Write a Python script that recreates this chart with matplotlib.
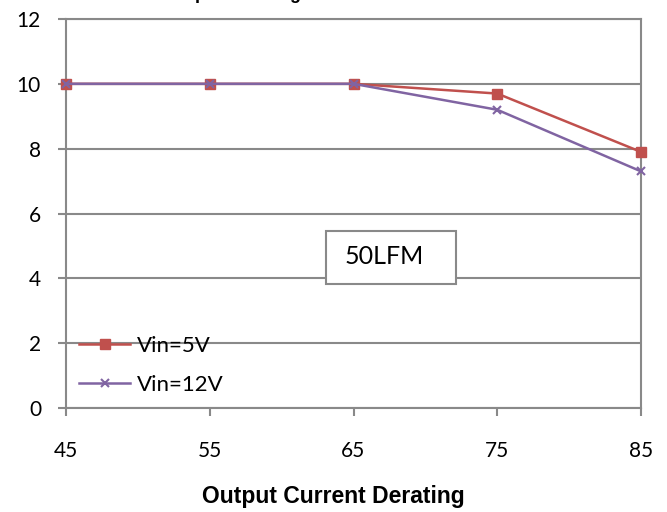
import numpy as np
import matplotlib
matplotlib.use('Agg')
import matplotlib.pyplot as plt
from matplotlib.patches import Rectangle

plt.rcParams['font.family'] = ['Lato', 'DejaVu Sans']

# data
temp = [45, 55, 65, 75, 85]
vin5 = [10, 10, 10, 9.7, 7.9]
vin12 = [10, 10, 10, 9.2, 7.3]
labels = ['Vin=5V', 'Vin=12V']
yticks = [0, 2, 4, 6, 8, 10, 12]

gray = '#898989'
arial = ['Liberation Sans', 'DejaVu Sans']

fig = plt.figure(figsize=(6.67, 5.12), dpi=100)
ax = fig.add_axes([66/667, 1-408/512, (641-66)/667, (408-19)/512])

ax.plot(temp, vin5, color='#C0504D', lw=1.8, marker='s', ms=6.5, label=labels[0], zorder=3, clip_on=False)
ax.plot(temp, vin12, color='#8064A2', lw=1.8, marker='x', ms=6, mew=1.5, label=labels[1], zorder=3, clip_on=False)

ax.set_xlim(45, 85)
ax.set_ylim(0, 12)
ax.set_xticks(temp)
ax.set_yticks(yticks)
ax.tick_params(axis='both', colors=gray, labelcolor='black', labelsize=15, length=6, width=1.5, direction='out')
ax.tick_params(axis='x', pad=17.5)
ax.tick_params(axis='y', pad=12)
for s in ax.spines.values():
    s.set_color(gray)
    s.set_linewidth(1.5)
ax.grid(axis='y', color=gray, lw=1.5)
ax.set_axisbelow(True)

ax.set_xlabel('Output Current Derating', fontsize=16.5, fontweight='bold', family=arial, va='top')
ax.xaxis.set_label_coords((333-66)/575, -(485-408)/389)

# title, cut off at the top edge as in the original
fig.text(233/667, 1+1/512, 'Output Derating', ha='center', va='baseline',
         fontsize=13, fontweight='bold', family=arial)

# 50LFM note box
ax.add_patch(Rectangle(((326-66)/575, (408-284)/389), 130/575, 53/389, transform=ax.transAxes,
                       fc='white', ec=gray, lw=1.5, zorder=4))
ax.text((345-66)/575, (408-257)/389, '50LFM', transform=ax.transAxes, fontsize=18,
        ha='left', va='center', zorder=5)

ax.legend(loc='lower left', bbox_to_anchor=(0.0155, 0.023), frameon=False, fontsize=16,
          handlelength=2.3, handletextpad=0.3, labelspacing=0.84, borderpad=0.2, borderaxespad=0)

fig.savefig('out.png', dpi=100)
